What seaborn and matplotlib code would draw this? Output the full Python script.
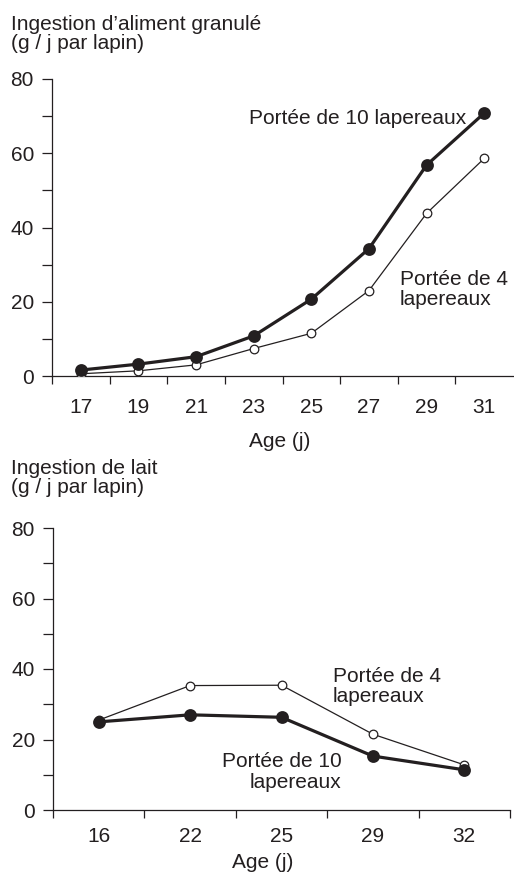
import matplotlib
matplotlib.use("Agg")
import matplotlib.pyplot as plt
import seaborn as sns
import pandas as pd
import numpy as np

# ---------------- data ----------------
ages_top = ["17", "19", "21", "23", "25", "27", "29", "31"]
granule_10 = [1.6, 3.2, 5.2, 10.8, 20.7, 34.3, 56.8, 70.8]
granule_4 = [0.6, 1.4, 3.0, 7.4, 11.5, 23.0, 43.8, 58.6]

ages_bot = ["16", "22", "25", "29", "32"]
lait_10 = [25.0, 27.0, 26.3, 15.3, 11.4]
lait_4 = [25.5, 35.3, 35.4, 21.5, 12.8]

title_top = ["Ingestion d\u2019aliment granulé", "(g / j par lapin)"]
title_bot = ["Ingestion de lait", "(g / j par lapin)"]
xlabel = "Age (j)"
lab10_one = "Portée de 10 lapereaux"
lab4 = ["Portée de 4", "lapereaux"]
lab10 = ["Portée de 10", "lapereaux"]

# ---------------- style ----------------
sns.set_style("ticks")
plt.rcParams["font.family"] = ["Liberation Sans", "DejaVu Sans"]
INK = "#231f20"
FS = 15
plt.rcParams["text.color"] = INK
plt.rcParams["axes.edgecolor"] = INK
plt.rcParams["xtick.color"] = INK
plt.rcParams["ytick.color"] = INK

W, H = 514, 876
fig = plt.figure(figsize=(W / 100, H / 100), dpi=100)


def px_axes(l, t, r, b):
    return fig.add_axes([l / W, 1 - b / H, (r - l) / W, (b - t) / H])


def ftext(x, y, s, **kw):
    fig.text(x / W, 1 - y / H, s, fontsize=FS, va="baseline", **kw)


def draw(ax, cats, s10, s4, xpad):
    d10 = pd.DataFrame({"age": cats, "v": s10})
    d4 = pd.DataFrame({"age": cats, "v": s4})
    sns.pointplot(data=d4, x="age", y="v", order=cats, ax=ax, color=INK,
                  errorbar=None, markers="o", linestyles="-",
                  linewidth=0.9, markersize=6.2, markerfacecolor="white",
                  markeredgecolor=INK, markeredgewidth=0.9, zorder=3)
    sns.pointplot(data=d10, x="age", y="v", order=cats, ax=ax, color=INK,
                  errorbar=None, markers="o", linestyles="-",
                  linewidth=2.3, markersize=7.5, markerfacecolor=INK,
                  markeredgecolor=INK, zorder=4)
    n = len(cats)
    ax.set_xlim(-0.5, n - 0.5)
    ax.set_ylim(0, 80)
    ax.set_xlabel("")
    ax.set_ylabel("")
    for s in ["top", "right"]:
        ax.spines[s].set_visible(False)
    for s in ["left", "bottom"]:
        ax.spines[s].set_linewidth(0.9)
        ax.spines[s].set_color(INK)
    ax.set_xticks(np.arange(n))
    ax.set_xticklabels(cats, fontsize=FS)
    ax.tick_params(axis="x", which="major", length=0, pad=xpad)
    ax.set_yticks([0, 20, 40, 60, 80])
    ax.set_yticklabels(["0", "20", "40", "60", "80"], fontsize=FS)
    ax.set_yticks([10, 30, 50, 70], minor=True)
    ax.tick_params(axis="y", which="both", length=7, width=0.9, pad=6,
                   direction="out")
    return n


# ---------------- top panel ----------------
ax1 = px_axes(52, 79, 513, 376)
n1 = draw(ax1, ages_top, granule_10, granule_4, xpad=16)
ax1.set_xticks(np.arange(-0.5, n1 - 1), minor=True)
ax1.tick_params(axis="x", which="minor", length=6, width=0.9, direction="out")
ax1.text(2.92, 68.0, lab10_one, fontsize=FS, va="baseline", ha="left")
ax1.text(5.54, 24.5, lab4[0], fontsize=FS, va="baseline", ha="left")
ax1.text(5.54, 19.1, lab4[1], fontsize=FS, va="baseline", ha="left")

# ---------------- bottom panel ----------------
ax2 = px_axes(53, 528, 510, 810)
n2 = draw(ax2, ages_bot, lait_10, lait_4, xpad=12)
ax2.set_xticks(np.arange(-0.5, n2), minor=True)
ax2.tick_params(axis="x", which="minor", length=6, width=0.9, direction="out")
ax2.text(2.56, 36.2, lab4[0], fontsize=FS, va="baseline", ha="left")
ax2.text(2.56, 30.5, lab4[1], fontsize=FS, va="baseline", ha="left")
ax2.text(2.66, 12.3, lab10[0], fontsize=FS, va="baseline", ha="right")
ax2.text(2.66, 6.2, lab10[1], fontsize=FS, va="baseline", ha="right")

# ---------------- titles / labels ----------------
ftext(11, 30, title_top[0], ha="left")
ftext(11, 49, title_top[1], ha="left")
ftext(11, 474, title_bot[0], ha="left")
ftext(11, 493, title_bot[1], ha="left")
ftext(280, 447, xlabel, ha="center")
ftext(263, 868, xlabel, ha="center")

fig.savefig("out.png", dpi=100)
